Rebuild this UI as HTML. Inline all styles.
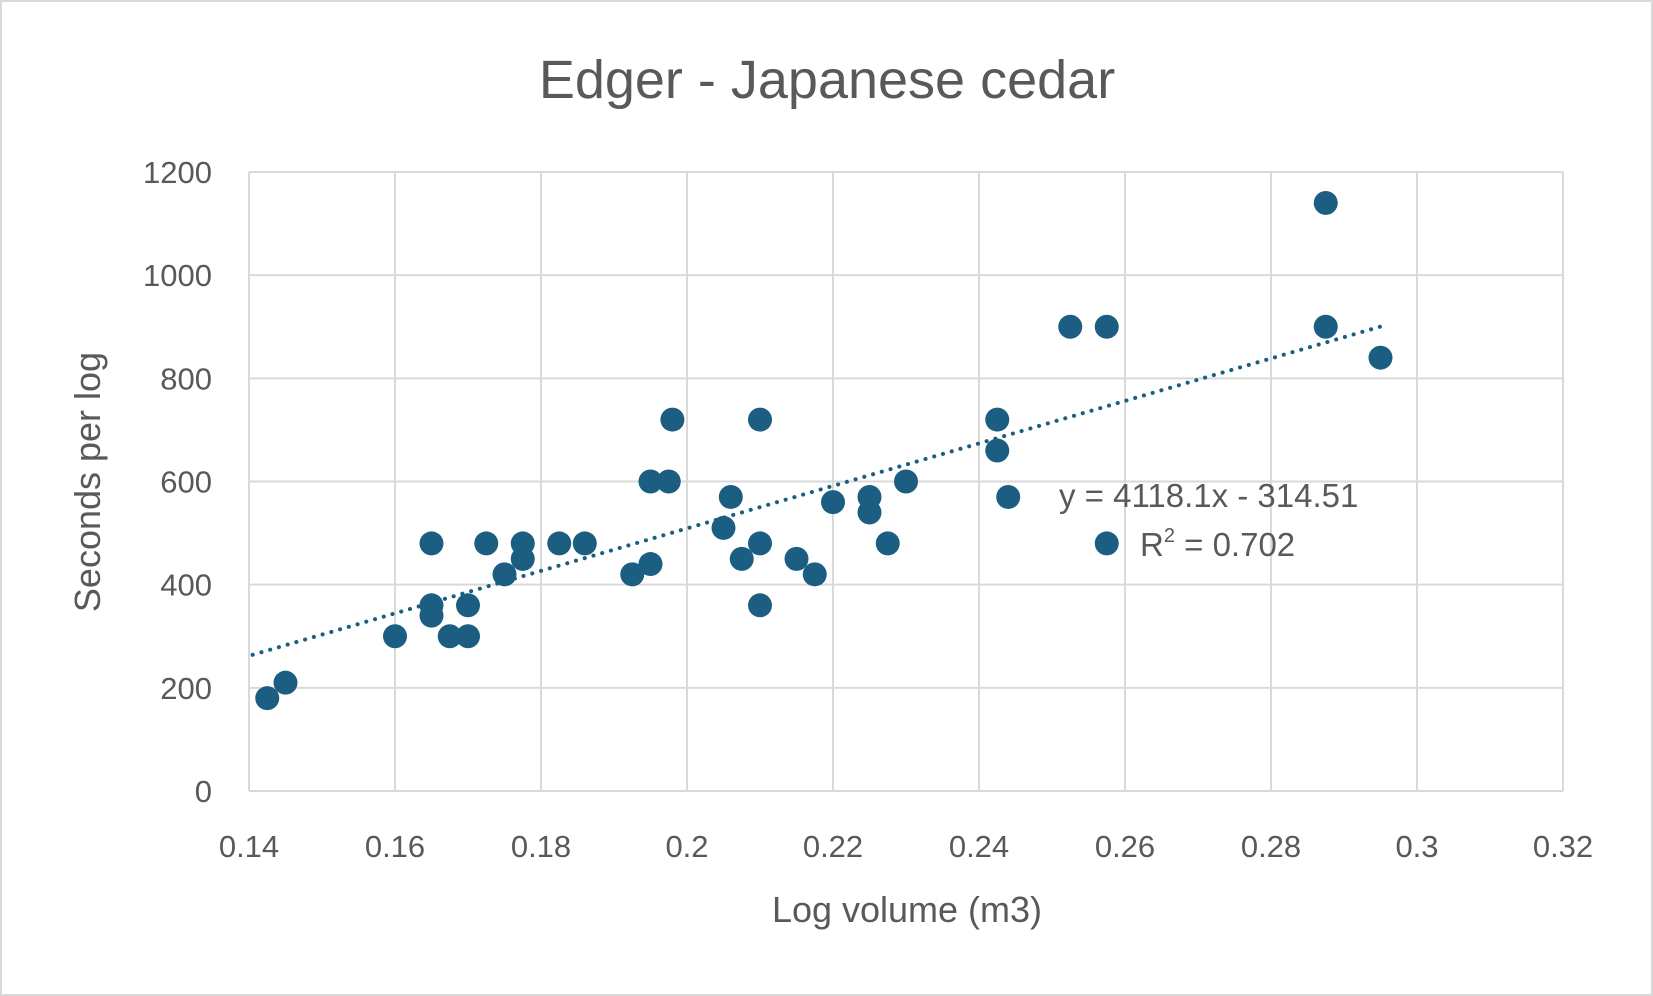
<!DOCTYPE html>
<html><head><meta charset="utf-8"><style>
html,body{margin:0;padding:0;background:#fff}
svg{display:block}
text{font-family:"Liberation Sans",sans-serif;fill:#595959}
</style></head><body>
<svg id="s" width="1653" height="996" viewBox="0 0 1653 996" xmlns="http://www.w3.org/2000/svg">
<rect x="1" y="1" width="1651" height="994" fill="#fff" stroke="#d9d9d9" stroke-width="2"/>
<text x="827" y="98" font-size="54" text-anchor="middle">Edger - Japanese cedar</text>
<g id="grid" stroke="#d9d9d9" stroke-width="2"></g>
<g id="lab" font-size="31"></g>
<text x="907" y="922" font-size="36" text-anchor="middle">Log volume (m3)</text>
<text transform="translate(100,482) rotate(-90)" font-size="36" text-anchor="middle">Seconds per log</text>
<line id="trend" stroke="#1b5e82" stroke-width="4" stroke-dasharray="0.1 9" stroke-linecap="round"/>
<g id="pts" fill="#1b5e82"></g>
<text x="1059" y="507" font-size="33">y = 4118.1x - 314.51</text>
<text x="1140" y="556" font-size="33">R<tspan font-size="20" dy="-14">2</tspan><tspan dy="14"> = 0.702</tspan></text>
</svg>
<script>
var L=249,R=1563,T=172,B=791;
function X(v){return L+(v-0.14)/0.18*(R-L)}
function Y(v){return B-v/1200*(B-T)}
var ns="http://www.w3.org/2000/svg",g=document.getElementById('grid'),lb=document.getElementById('lab');
function el(p,t,a,txt){var e=document.createElementNS(ns,t);for(var k in a)e.setAttribute(k,a[k]);if(txt)e.textContent=txt;p.appendChild(e);return e}
for(var i=0;i<=6;i++){var y=Y(i*200);el(g,'line',{x1:L,x2:R,y1:y,y2:y});el(lb,'text',{x:212,y:y+11,'text-anchor':'end'},String(i*200));}
var xl=['0.14','0.16','0.18','0.2','0.22','0.24','0.26','0.28','0.3','0.32'];
for(var i=0;i<=9;i++){var x=X(0.14+i*0.02);el(g,'line',{x1:x,x2:x,y1:T,y2:B});el(lb,'text',{x:x,y:857,'text-anchor':'middle'},xl[i]);}
var t=document.getElementById('trend');
t.setAttribute('x1',X(0.1405));t.setAttribute('y1',Y(4118.1*0.1405-314.51));
t.setAttribute('x2',X(0.2955));t.setAttribute('y2',Y(4118.1*0.2955-314.51));
var d=[[0.1425,180],[0.145,210],[0.16,300],[0.165,480],[0.165,360],[0.165,340],[0.1675,300],[0.17,360],[0.17,300],[0.1725,480],[0.175,420],[0.1775,480],[0.1775,450],[0.1825,480],[0.186,480],[0.1925,420],[0.195,440],[0.195,600],[0.1975,600],[0.198,720],[0.205,510],[0.206,570],[0.2075,450],[0.21,720],[0.21,480],[0.21,360],[0.215,450],[0.2175,420],[0.22,560],[0.225,570],[0.225,540],[0.2275,480],[0.23,600],[0.2425,720],[0.2425,660],[0.244,570],[0.2525,900],[0.2575,900],[0.2575,480],[0.2875,1140],[0.2875,900],[0.295,840]];
var p=document.getElementById('pts');
d.forEach(function(q){el(p,'circle',{cx:X(q[0]),cy:Y(q[1]),r:12})});
</script>
</body></html>
